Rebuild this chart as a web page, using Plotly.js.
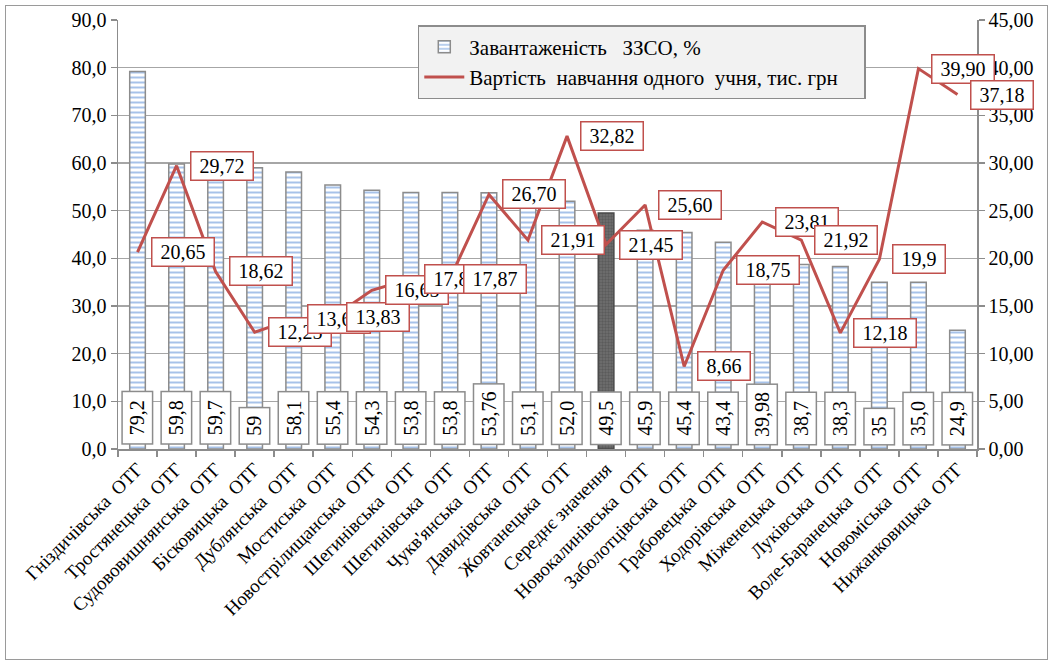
<!DOCTYPE html>
<html>
<head>
<meta charset="utf-8">
<script src="https://cdn.plot.ly/plotly-3.0.1.min.js"></script>
<style>
  html, body { margin: 0; padding: 0; background: #fff; }
  #chart { width: 1054px; height: 662px; }
  #frame { position: absolute; left: 5px; top: 5px; width: 1041px; height: 653px;
           border: 1.5px solid #9a9a9a; pointer-events: none; }
</style>
</head>
<body>
<div id="chart"></div>
<div id="frame"></div>
<script>
const categories = [
  "Гніздичівська\u00a0 ОТГ", "Тростянецька\u00a0 ОТГ", "Судововишнянська\u00a0 ОТГ", "Бісковицька\u00a0 ОТГ",
  "Дублянська\u00a0 ОТГ", "Мостиська\u00a0 ОТГ", "Новострілищанська\u00a0 ОТГ", "Шегинівська\u00a0 ОТГ",
  "Шегинівська\u00a0 ОТГ", "Чукв'янська\u00a0 ОТГ", "Давидівська\u00a0 ОТГ", "Жовтанецька\u00a0 ОТГ",
  "Середнє значення", "Новокалинівська\u00a0 ОТГ", "Заболотцівська\u00a0 ОТГ", "Грабовецька\u00a0 ОТГ",
  "Ходорівська\u00a0 ОТГ", "Міженецька\u00a0 ОТГ", "Луківська\u00a0 ОТГ", "Воле-Баранецька\u00a0 ОТГ",
  "Новоміська\u00a0 ОТГ", "Нижанковицька\u00a0 ОТГ"
];
const loadPct = [79.2, 59.8, 59.7, 59, 58.1, 55.4, 54.3, 53.8, 53.8, 53.76, 53.1, 52.0, 49.5, 45.9, 45.4, 43.4, 39.98, 38.7, 38.3, 35, 35.0, 24.9];
const loadLabels = ["79,2", "59,8", "59,7", "59", "58,1", "55,4", "54,3", "53,8", "53,8", "53,76", "53,1", "52,0", "49,5", "45,9", "45,4", "43,4", "39,98", "38,7", "38,3", "35", "35,0", "24,9"];
const costPerPupil = [20.65, 29.72, 18.62, 12.25, 13.65, 13.83, 16.65, 17.85, 17.87, 26.70, 21.91, 32.82, 21.45, 25.60, 8.66, 18.75, 23.81, 21.92, 12.18, 19.9, 39.90, 37.18];
const costLabels = ["20,65", "29,72", "18,62", "12,25", "13,65", "13,83", "16,65", "17,85", "17,87", "26,70", "21,91", "32,82", "21,45", "25,60", "8,66", "18,75", "23,81", "21,92", "12,18", "19,9", "39,90", "37,18"];
const averageName = "Середнє значення";
const seriesNames = ["Завантаженість\u00a0\u00a0 ЗЗСО, %", "Вартість\u00a0 навчання одного\u00a0 учня, тис. грн\u00a0\u00a0\u00a0\u00a0"];

const FONT = "'Liberation Serif', 'Times New Roman', 'DejaVu Serif', serif";
const idx = categories.map((_, i) => i);
const otgIdx = idx.filter(i => categories[i] !== averageName);
const avgIdx = idx.filter(i => categories[i] === averageName);
const boundaries = idx.map(i => i - 0.5).concat([categories.length - 0.5]);

const barTrace = {
  type: 'bar', x: otgIdx, y: otgIdx.map(i => loadPct[i]), name: seriesNames[0], yaxis: 'y',
  width: 0.4,
  marker: {
    color: '#ffffff',
    line: { color: '#8c8c8c', width: 1.5 },
    pattern: { shape: '-', fgcolor: '#4f86d4', bgcolor: '#ffffff', size: 5, solidity: 0.4, fillmode: 'overlay' }
  },
  hoverinfo: 'skip'
};
const avgTrace = {
  type: 'bar', x: avgIdx, y: avgIdx.map(i => loadPct[i]), name: averageName, yaxis: 'y',
  width: 0.4, showlegend: false,
  marker: {
    color: '#6a6a6a',
    line: { color: '#4a4a4a', width: 1.5 },
    pattern: { shape: '.', fgcolor: '#454545', bgcolor: '#707070', size: 3, solidity: 0.5, fillmode: 'overlay' }
  },
  hoverinfo: 'skip'
};
const lineTrace = {
  type: 'scatter', mode: 'lines', x: idx, y: costPerPupil, name: seriesNames[1], yaxis: 'y2',
  line: { color: '#c0504d', width: 3 }, hoverinfo: 'skip'
};

const annotations = [];
idx.forEach(i => {
  annotations.push({
    x: i, y: 0.8, xref: 'x', yref: 'y', text: loadLabels[i], textangle: -90,
    showarrow: false, xanchor: 'center', yanchor: 'bottom',
    bgcolor: '#ffffff', bordercolor: '#8c8c8c', borderwidth: 1.5, borderpad: 1,
    width: 17 + 8 * loadLabels[i].length, height: 27,
    font: { family: FONT, size: 20, color: '#000' }
  });
});
idx.forEach(i => {
  annotations.push({
    x: i, y: costPerPupil[i], xref: 'x', yref: 'y2', text: costLabels[i],
    showarrow: false, xanchor: 'left', yanchor: 'middle', xshift: 13,
    bgcolor: '#ffffff', bordercolor: '#c0504d', borderwidth: 1.5, borderpad: 1,
    width: 9 + 10 * costLabels[i].length, height: 25,
    font: { family: FONT, size: 20, color: '#000' }
  });
});

const layout = {
  width: 1054, height: 662,
  margin: { l: 118, r: 77, t: 20, b: 213 },
  paper_bgcolor: '#ffffff', plot_bgcolor: '#ffffff',
  separators: ', ',
  barmode: 'overlay',
  font: { family: FONT, size: 20, color: '#000' },
  showlegend: true,
  legend: {
    x: 0.349, y: 0.988, xanchor: 'left', yanchor: 'top',
    bgcolor: '#f2f2f2', bordercolor: '#8c8c8c', borderwidth: 1.5,
    font: { family: FONT, size: 21, color: '#000' },
    traceorder: 'normal', itemwidth: 40
  },
  xaxis: {
    range: [-0.5, categories.length - 0.5],
    tickmode: 'array', tickvals: idx, ticktext: categories, tickangle: -45,
    ticks: '', showgrid: false, zeroline: false,
    showline: true, linecolor: '#8c8c8c', linewidth: 1.5,
    tickfont: { family: FONT, size: 19, color: '#000' },
    minor: { tickmode: 'array', tickvals: boundaries, ticks: 'outside', ticklen: 6,
             tickcolor: '#8c8c8c', tickwidth: 1.5, showgrid: false }
  },
  yaxis: {
    range: [0, 90], dtick: 10, tickformat: '.1f',
    showgrid: true, gridcolor: '#a6a6a6', gridwidth: 1.5, zeroline: false,
    showline: true, linecolor: '#8c8c8c', linewidth: 1.5,
    ticks: 'outside', ticklen: 6, tickcolor: '#8c8c8c', tickwidth: 1.5,
    tickfont: { family: FONT, size: 20, color: '#000' }
  },
  yaxis2: {
    range: [0, 45], dtick: 5, tickformat: '.2f', overlaying: 'y', side: 'right',
    showgrid: false, zeroline: false,
    showline: true, linecolor: '#8c8c8c', linewidth: 1.5,
    ticks: 'outside', ticklen: 6, tickcolor: '#8c8c8c', tickwidth: 1.5,
    tickfont: { family: FONT, size: 20, color: '#000' }
  },
  annotations: annotations
};

Plotly.newPlot('chart', [barTrace, avgTrace, lineTrace], layout, { displayModeBar: false, staticPlot: true });
</script>
</body>
</html>
